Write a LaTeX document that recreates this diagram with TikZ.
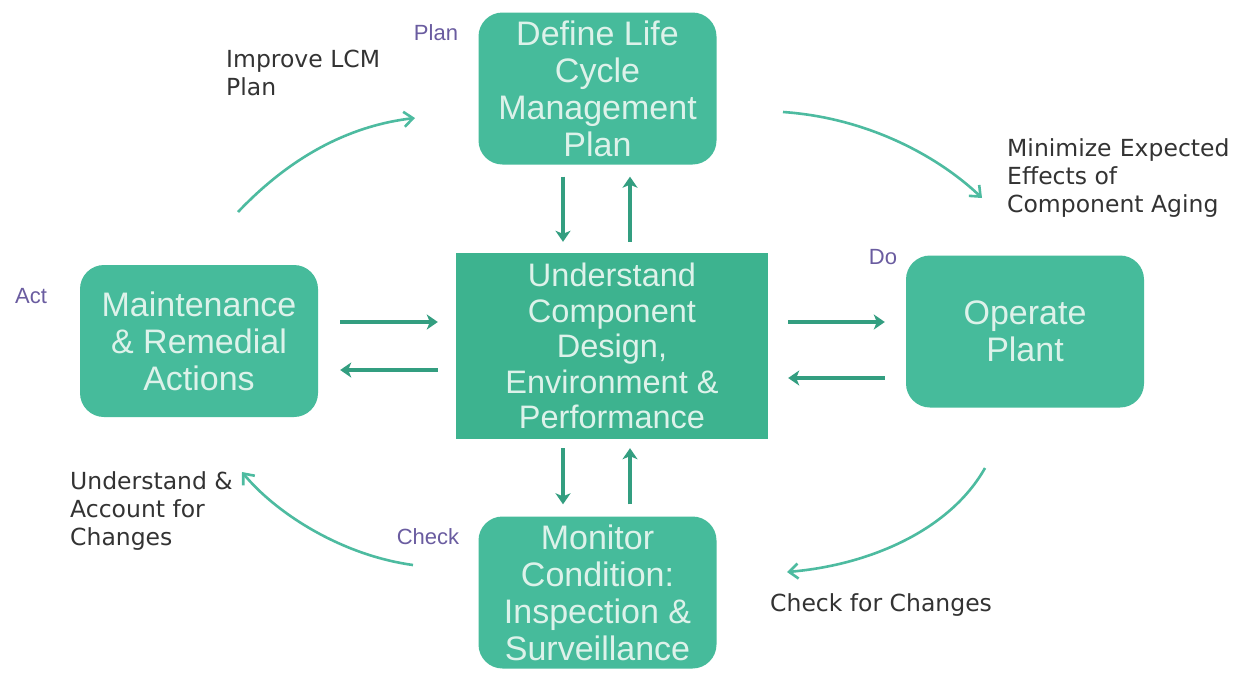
\documentclass[tikz,border=0pt]{standalone}
\usepackage{fontspec}
\setmainfont{Liberation Sans}
\newfontfamily\dv{DejaVu Sans}
\usetikzlibrary{arrows.meta,calc}
\definecolor{boxfill}{HTML}{46BB9B}
\definecolor{ctrfill}{HTML}{3DB38F}
\definecolor{boxtext}{HTML}{DDF2EA}
\definecolor{arrcol}{HTML}{339E80}
\definecolor{curvecol}{HTML}{4DBBA0}
\definecolor{phase}{HTML}{6A5CA0}
\definecolor{labtext}{HTML}{333333}
\tikzset{
  stagebox/.style={fill=boxfill, draw=none, rounded corners=24pt, minimum width=238pt, minimum height=152pt,
    text=boxtext, align=center, inner sep=0pt, font=\fontsize{34}{37}\selectfont},
  ctrbox/.style={fill=ctrfill, draw=none, minimum width=312pt, minimum height=186pt,
    text=boxtext, align=center, inner sep=0pt, font=\fontsize{32.5}{35.5}\selectfont},
  arr/.style={draw=arrcol, line width=3.2pt, -{Stealth[length=11pt,width=15pt,inset=3pt]}},
  carr/.style={draw=curvecol, line width=2.6pt, -{Straight Barb[length=9pt,width=15pt,line width=2.6pt]}},
  phaselab/.style={text=phase, inner sep=0pt, font=\fontsize{22}{26}\selectfont},
  note/.style={text=labtext, inner sep=0pt, align=left, anchor=north west, font=\dv\fontsize{23.5}{28}\selectfont}
}
\begin{document}
\begin{tikzpicture}[x=1pt,y=-1pt]
\useasboundingbox (0,0) rectangle (1239,673);
\fill[white] (0,0) rectangle (1239,673);
% boxes
\node[stagebox] (top) at (597.5,88.5) {Define Life\\Cycle\\Management\\Plan};
\node[stagebox] (lft) at (199,341) {Maintenance\\\& Remedial\\Actions};
\node[ctrbox] (ctr) at (612,346) {Understand\\Component\\Design,\\Environment \&\\Performance};
\node[stagebox] (rgt) at (1025,331.5) {Operate\\Plant};
\node[stagebox] (bot) at (597.5,592.5) {Monitor\\Condition:\\Inspection \&\\Surveillance};
% phase labels
\node[phaselab] (plan) at (436,33) {Plan};
\node[phaselab] (do) at (883,257) {Do};
\node[phaselab] (act) at (31,296) {Act};
\node[phaselab] (check) at (428,537) {Check};
% notes
\node[note] (n1) at (226,50) {Improve LCM\\Plan};
\node[note] (n2) at (1007,138) {Minimize\hspace{0.35em}Expected\\Effects of\\Component Aging};
\node[note] (n3) at (70,471) {Understand \&\\Account for\\Changes};
\node[note] (n4) at (770,593) {Check for Changes};
% straight arrows
\draw[arr] ($(top.south)+(-34.5,12)$) -- ($(ctr.north)+(-49,-11)$);
\draw[arr] ($(ctr.north)+(18,-11)$) -- ($(top.south)+(32.5,12)$);
\draw[arr] ($(ctr.south)+(-49,9)$) -- ($(bot.north)+(-34.5,-12)$);
\draw[arr] ($(bot.north)+(32.5,-12)$) -- ($(ctr.south)+(18,9)$);
\draw[arr] ($(lft.east)+(22,-19)$) -- ($(ctr.west)+(-18,-24)$);
\draw[arr] ($(ctr.west)+(-18,24)$) -- ($(lft.east)+(22,29)$);
\draw[arr] ($(ctr.east)+(20,-24)$) -- ($(rgt.west)+(-21,-9.5)$);
\draw[arr] ($(rgt.west)+(-21,46.5)$) -- ($(ctr.east)+(20,32)$);
% curved arrows
\coordinate (a1s) at (238,212); \coordinate (a1e) at (415,118);
\coordinate (a2s) at (783,112); \coordinate (a2e) at (982,198);
\coordinate (a3s) at (985,468); \coordinate (a3e) at (787,572);
\coordinate (a4s) at (413,565); \coordinate (a4e) at (242,472);
\draw[carr] (a1s) .. controls (295,152) and (355,125) .. (a1e);
\draw[carr] (a2s) .. controls (870,118) and (940,158) .. (a2e);
\draw[carr] (a3s) .. controls (950,530) and (870,565) .. (a3e);
\draw[carr] (a4s) .. controls (340,555) and (275,512) .. (a4e);
\end{tikzpicture}
\end{document}
